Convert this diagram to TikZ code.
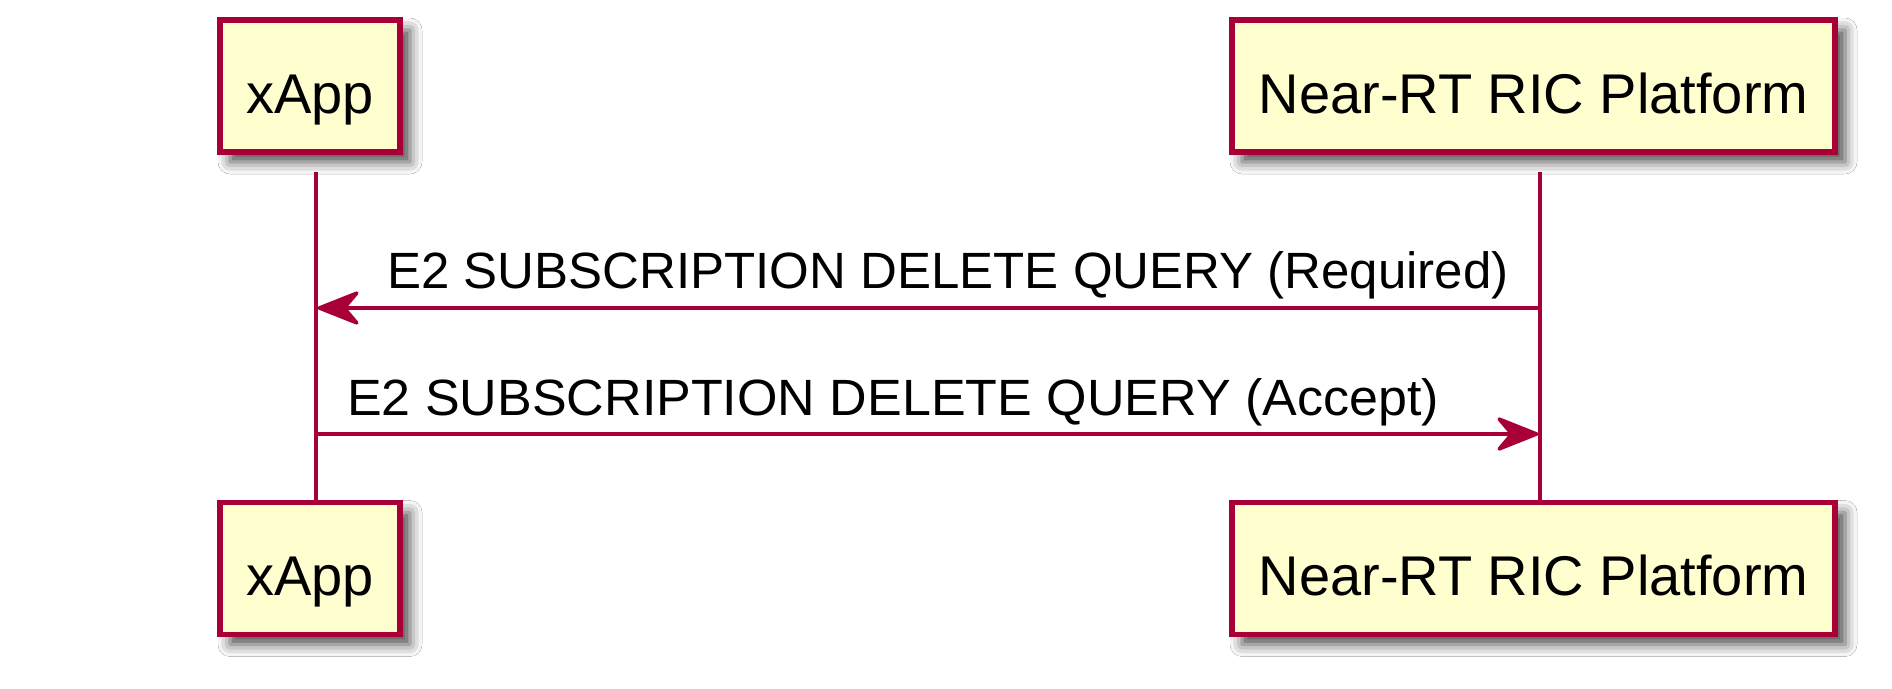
\documentclass[tikz,border=0pt]{standalone}
\usepackage{fontspec}
\setmainfont{Liberation Sans}
\usetikzlibrary{arrows.meta,shadows.blur}
\definecolor{pumlred}{HTML}{A80036}
\definecolor{pumlfill}{HTML}{FEFECE}
\begin{document}
\begin{tikzpicture}[x=1pt,y=-1pt,
 participant/.style={draw=pumlred, fill=pumlfill, line width=5.5pt, minimum height=132pt,
   text height=54pt, text depth=0pt, inner sep=0pt, font=\fontsize{56}{60}\selectfont,
   blur shadow={shadow xshift=10pt, shadow yshift=-10pt, shadow blur radius=12pt, shadow opacity=70}},
 lifeline/.style={draw=pumlred, line width=3.5pt},
 msg/.style={draw=pumlred, line width=3.5pt, -{Stealth[length=48pt,width=38pt,inset=16pt,round]}},
 msglabel/.style={anchor=base west, inner sep=0pt, font=\fontsize{51}{60}\selectfont}]
\fill[white] (0,0) rectangle (1892,688);
\useasboundingbox (0,0) rectangle (1892,688);

% lifelines
\coordinate (xt) at (316,172);
\coordinate (xb) at (316,502);
\coordinate (nt) at (1540,172);
\coordinate (nb) at (1540,502);
\draw[lifeline] (xt) -- (xb);
\draw[lifeline] (nt) -- (nb);

% participants
\node[participant, minimum width=180pt] (xapptop) at (310,86) {xApp};
\node[participant, minimum width=603pt] (rictop) at (1533.5,86) {Near-RT RIC Platform};
\node[participant, minimum width=180pt] (xappbot) at (310,568.5) {xApp};
\node[participant, minimum width=603pt] (ricbot) at (1533.5,568.5) {Near-RT RIC Platform};

% messages
\coordinate (m1s) at (1540,308);
\coordinate (m1e) at (317.5,308);
\coordinate (m2s) at (316,434);
\coordinate (m2e) at (1538.5,434);
\draw[msg] (m1s) -- (m1e);
\draw[msg] (m2s) -- (m2e);
\node[msglabel] (l1) at (387,288) {E2 SUBSCRIPTION DELETE QUERY (Required)};
\node[msglabel, xscale=1.02] (l2) at (347,415) {E2 SUBSCRIPTION DELETE QUERY (Accept)};
\end{tikzpicture}
\end{document}
